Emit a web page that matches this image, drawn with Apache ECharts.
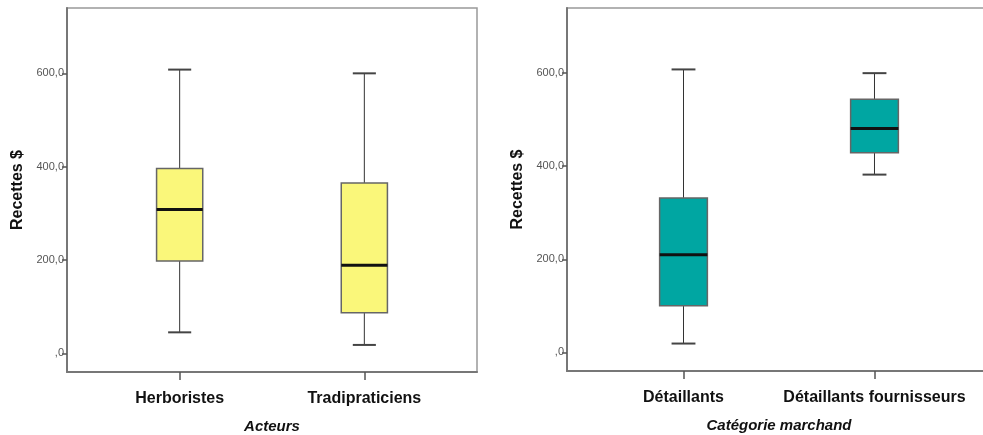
<!DOCTYPE html>
<html>
<head>
<meta charset="utf-8">
<script src="https://cdn.jsdelivr.net/npm/echarts@6/dist/echarts.min.js"></script>
<style>
  html, body { margin: 0; padding: 0; background: #fff; }
  #chart { width: 983px; height: 435px; }
</style>
</head>
<body>
<div id="chart"></div>
<script>
// panneau gauche : acteurs
var acteurs = ['Herboristes', 'Tradipraticiens'];
// [min, Q1, mediane, Q3, max]
var acteursBox = [
  [45, 198, 308, 396, 608],
  [18, 87, 189, 365, 600]
];

// panneau droit : catégorie marchand
var marchands = ['Détaillants', 'Détaillants fournisseurs'];
var marchandsBox = [
  [19, 100, 210, 332, 608],
  [382, 429, 481, 544, 600]
];

var yTicks = [0, 200, 400, 600];

var myChart = echarts.init(document.getElementById('chart'));

function boxData(arr) {
  return arr.map(function (b, i) { return [i].concat(b); });
}

function renderBox(color) {
  return function (params, api) {
    var x = api.value(0);
    var pMin = api.coord([x, api.value(1)]);
    var pQ1 = api.coord([x, api.value(2)]);
    var pMed = api.coord([x, api.value(3)]);
    var pQ3 = api.coord([x, api.value(4)]);
    var pMax = api.coord([x, api.value(5)]);
    var half = api.size([0.25, 0])[0] / 2;
    var cap = half / 2;
    var cx = pMed[0];
    return {
      type: 'group',
      children: [
        { type: 'line', shape: { x1: cx, y1: pMax[1], x2: cx, y2: pQ3[1] }, style: { stroke: '#333', lineWidth: 1 } },
        { type: 'line', shape: { x1: cx, y1: pQ1[1], x2: cx, y2: pMin[1] }, style: { stroke: '#333', lineWidth: 1 } },
        { type: 'line', shape: { x1: cx - cap, y1: pMax[1], x2: cx + cap, y2: pMax[1] }, style: { stroke: '#444', lineWidth: 2 } },
        { type: 'line', shape: { x1: cx - cap, y1: pMin[1], x2: cx + cap, y2: pMin[1] }, style: { stroke: '#444', lineWidth: 2 } },
        { type: 'rect', shape: { x: cx - half, y: pQ3[1], width: half * 2, height: pQ1[1] - pQ3[1] },
          style: { fill: color, stroke: '#666', lineWidth: 1.5 } },
        { type: 'line', shape: { x1: cx - half, y1: pMed[1], x2: cx + half, y2: pMed[1] }, style: { stroke: '#111', lineWidth: 3 } }
      ]
    };
  };
}

function xAxisFor(idx, cats, name) {
  return {
    gridIndex: idx,
    type: 'value',
    min: -0.61,
    max: 1.61,
    name: name,
    nameLocation: 'middle',
    nameGap: 47,
    nameTextStyle: { fontFamily: 'Liberation Sans', fontWeight: 'bold', fontStyle: 'italic', fontSize: 15, color: '#111' },
    splitLine: { show: false },
    axisLine: { show: true, onZero: false, lineStyle: { color: '#777', width: 2 } },
    axisTick: { show: true, customValues: [0, 1], length: 8, lineStyle: { color: '#555', width: 1.5 } },
    axisLabel: {
      customValues: [0, 1],
      margin: 19,
      fontFamily: 'Liberation Sans', fontWeight: 'bold', fontSize: 16, color: '#111',
      formatter: function (v) { return cats[Math.round(v)]; }
    }
  };
}

function yAxisFor(idx) {
  return {
    gridIndex: idx,
    type: 'value',
    min: -40,
    max: 740,
    name: 'Recettes $',
    nameLocation: 'middle',
    nameGap: 41,
    nameTextStyle: { fontFamily: 'Liberation Sans', fontWeight: 'bold', fontSize: 16, color: '#111' },
    splitLine: { show: false },
    axisLine: { show: true, onZero: false, lineStyle: { color: '#777', width: 2 } },
    axisTick: { show: true, customValues: yTicks, length: 5, inside: false, lineStyle: { color: '#555', width: 1.5 } },
    axisLabel: {
      customValues: yTicks,
      margin: 3,
      fontFamily: 'Liberation Sans', fontSize: 11, color: '#555',
      formatter: function (v) { return v === 0 ? ',0' : v.toFixed(1).replace('.', ','); }
    }
  };
}

var option = {
  animation: false,
  backgroundColor: '#fff',
  grid: [
    { left: 67, top: 8, width: 410, height: 364, outerBoundsMode: 'none', containLabel: false,
      show: true, borderColor: '#999', borderWidth: 1.5 },
    { left: 567, top: 8, width: 424, height: 363, outerBoundsMode: 'none', containLabel: false,
      show: true, borderColor: '#999', borderWidth: 1.5 }
  ],
  xAxis: [
    xAxisFor(0, acteurs, 'Acteurs'),
    xAxisFor(1, marchands, 'Catégorie marchand')
  ],
  yAxis: [yAxisFor(0), yAxisFor(1)],
  series: [
    {
      type: 'custom',
      xAxisIndex: 0, yAxisIndex: 0,
      renderItem: renderBox('#FAF77A'),
      encode: { x: 0, y: [1, 2, 3, 4, 5] },
      data: boxData(acteursBox)
    },
    {
      type: 'custom',
      xAxisIndex: 1, yAxisIndex: 1,
      renderItem: renderBox('#00A6A2'),
      encode: { x: 0, y: [1, 2, 3, 4, 5] },
      data: boxData(marchandsBox)
    }
  ]
};

myChart.setOption(option);
</script>
</body>
</html>
